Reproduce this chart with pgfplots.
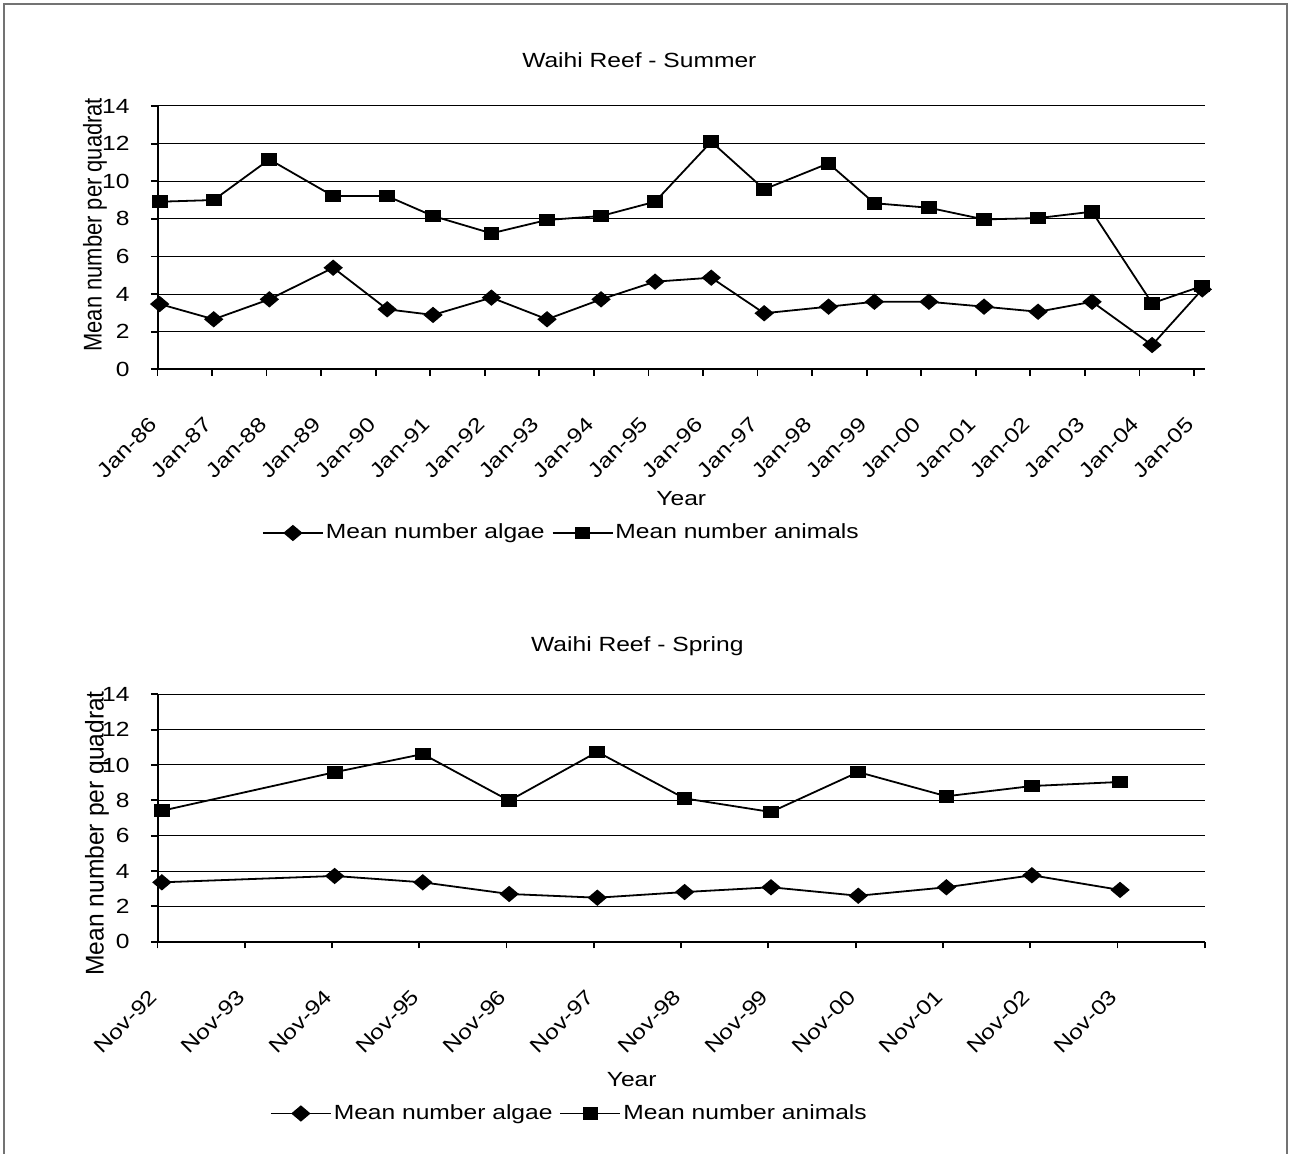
\documentclass[border=0pt]{standalone}
\usepackage{pgfplots}
\pgfplotsset{compat=1.18}
\usepackage{fontspec}
\setmainfont{Liberation Sans}[FakeStretch=1.2]
\newfontfamily\ylabelfont{Liberation Sans}[FakeStretch=1.07]
\newcommand\chartfont{\fontsize{10.25pt}{12pt}\selectfont}

\pgfplotsset{
  reefaxis/.style={
    scale only axis,
    clip=false,
    axis x line*=bottom, axis y line*=left,
    axis line style={line width=1pt, -},
    ymin=0, ymax=14, ytick={0,2,...,14},
    ymajorgrids, major grid style={line width=0.5pt, black},
    tick align=outside, major tick length=3.3pt,
    tick style={line width=0.9pt, black},
    /pgf/number format/assume math mode=true,
    font=\chartfont,
    yticklabel style={anchor=east, inner sep=0pt, xshift=-10.5pt},
    xticklabel style={anchor=north east, inner sep=0pt, xshift=-4.5pt, yshift=-19.75pt, rotate=45},
    legend columns=2,
    legend cell align=left,
    legend style={draw=none, fill=none, inner sep=0pt, outer sep=0pt, anchor=west,
      font=\chartfont,
      /tikz/column sep=1pt,
      /tikz/every even column/.append style={column sep=3.5pt},
      nodes={inner sep=0pt}},
    legend image code/.code={%
      \draw[mark repeat=2, mark phase=2, ##1]
        plot coordinates {(0pt,0pt) (15pt,0pt) (30pt,0pt)};},
  },
  algae/.style={black, line width=0.9pt, mark=diamond*, mark size=3.5pt,
    mark options={xscale=1.58, solid}},
  animals/.style={black, line width=0.9pt, mark=square*, mark size=2.75pt,
    mark options={xscale=1.27, solid}},
}

\begin{document}
\begin{tikzpicture}

% Summer surveys (January)
\begin{axis}[reefaxis,
  at={(78.75pt,391.85pt)}, anchor=south west,
  width=523.75pt, height=131.65pt,
  xmin=1986, xmax=2005.2,
  xtick={1986,1987,...,2005},
  xticklabels={Jan-86,Jan-87,Jan-88,Jan-89,Jan-90,Jan-91,Jan-92,Jan-93,Jan-94,Jan-95,
    Jan-96,Jan-97,Jan-98,Jan-99,Jan-00,Jan-01,Jan-02,Jan-03,Jan-04,Jan-05},
  xlabel={Year},
  xlabel style={at={(axis description cs:0.5,-0.519)}, anchor=base, inner sep=0pt},
  ylabel={{\ylabelfont Mean number per quadrat}},
  ylabel style={at={(axis description cs:-0.0597,0.549)}, anchor=center, inner sep=0pt,
    rotate=-90, xscale=1.25, rotate=90},
  legend style={at={(axis description cs:0.0998,-0.6217)}},
]
\addplot[algae] coordinates {
  (1986.04,3.47) (1987.03,2.66) (1988.05,3.72) (1989.22,5.40) (1990.21,3.19)
  (1991.05,2.89) (1992.12,3.81) (1993.14,2.66) (1994.13,3.72) (1995.12,4.66)
  (1996.15,4.87) (1997.12,2.98) (1998.30,3.33) (1999.14,3.59) (2000.14,3.59)
  (2001.15,3.33) (2002.14,3.06) (2003.13,3.59) (2004.23,1.29) (2005.15,4.25)};
\addlegendentry{Mean number algae}
\addplot[animals] coordinates {
  (1986.04,8.91) (1987.03,9.00) (1988.05,11.16) (1989.22,9.21) (1990.21,9.21)
  (1991.05,8.15) (1992.12,7.23) (1993.14,7.94) (1994.13,8.15) (1995.12,8.91)
  (1996.15,12.10) (1997.12,9.57) (1998.30,10.95) (1999.14,8.83) (2000.14,8.59)
  (2001.15,7.97) (2002.14,8.04) (2003.13,8.38) (2004.23,3.51) (2005.15,4.43)};
\addlegendentry{Mean number animals}
\node[anchor=base, inner sep=0pt] at (rel axis cs:0.46,1.1455) {Waihi Reef - Summer};
\end{axis}

% Spring surveys (November)
\begin{axis}[reefaxis,
  at={(78.75pt,105.65pt)}, anchor=south west,
  width=523.6pt, height=123.7pt,
  xmin=1992, xmax=2004,
  xtick={1992,1993,...,2004},
  xticklabels={Nov-92,Nov-93,Nov-94,Nov-95,Nov-96,Nov-97,Nov-98,Nov-99,Nov-00,Nov-01,
    Nov-02,Nov-03,{}},
  xlabel={Year},
  xlabel style={at={(axis description cs:0.4528,-0.586)}, anchor=base, inner sep=0pt},
  ylabel={Mean number per quadrat},
  ylabel style={at={(axis description cs:-0.0578,0.438)}, anchor=center, inner sep=0pt,
    rotate=-90, xscale=1.25, rotate=90},
  legend style={at={(axis description cs:0.1074,-0.6944)}},
]
\addplot[algae] coordinates {
  (1992.05,3.36) (1994.03,3.72) (1995.04,3.36) (1996.03,2.70) (1997.04,2.49)
  (1998.04,2.81) (1999.03,3.08) (2000.03,2.60) (2001.04,3.08) (2002.02,3.76)
  (2003.03,2.93)};
\addlegendentry{Mean number algae}
\addplot[animals] coordinates {
  (1992.05,7.41) (1994.03,9.59) (1995.04,10.62) (1996.03,7.98) (1997.04,10.74)
  (1998.04,8.11) (1999.03,7.34) (2000.03,9.60) (2001.04,8.23) (2002.02,8.81)
  (2003.03,9.04)};
\addlegendentry{Mean number animals}
\node[anchor=base, inner sep=0pt] at (rel axis cs:0.4582,1.172) {Waihi Reef - Spring};
\end{axis}

% chart area border
\draw[black!55, line width=0.75pt] (2pt,-3pt) rectangle (643.5pt,574.5pt);
\pgfresetboundingbox
\path[use as bounding box] (0pt,0pt) rectangle (645pt,576.5pt);
\end{tikzpicture}
\end{document}
